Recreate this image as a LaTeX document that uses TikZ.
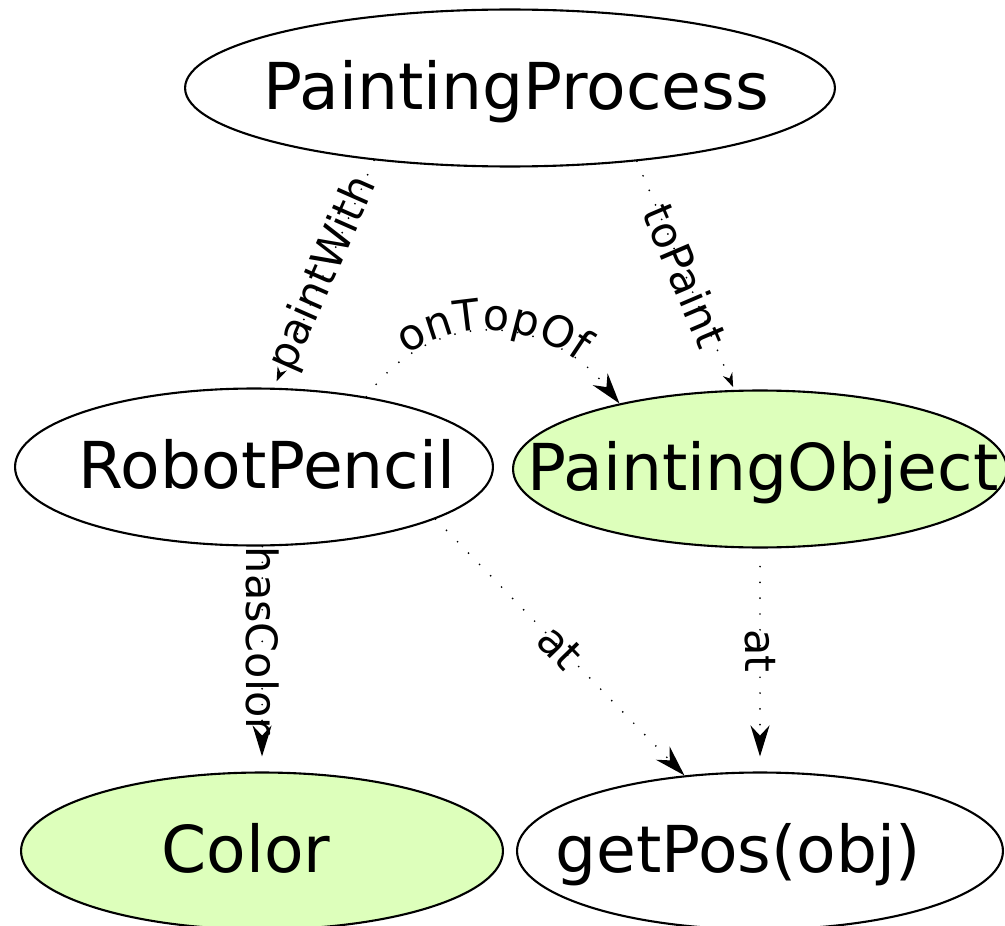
\documentclass[tikz,border=0pt]{standalone}
\usepackage{fontspec}
\setmainfont{DejaVu Sans}
\usetikzlibrary{shapes.geometric, arrows.meta, decorations.text}

\definecolor{leaf}{HTML}{DDFFBB}
\newcommand{\conceptfont}{\fontsize{36.8pt}{40pt}\selectfont}
\newcommand{\relfont}{\fontsize{24.5pt}{28pt}\selectfont}
% name centred in its ellipse, optionally pushed sideways
\newcommand{\cname}[2][0pt]{\makebox[0pt]{\hspace{#1}#2}}

\begin{document}
\begin{tikzpicture}[x=0.02cm, y=-0.02cm,
        concept/.style={ellipse, draw, line width=1.2pt, inner sep=0pt, minimum height=3.14cm,
                        text height=0.88cm, text depth=0pt, font=\conceptfont},
        given/.style={concept, fill=leaf},
        relation/.style={line width=1.1pt, line cap=round, dash pattern=on 0pt off 9pt},
        big/.style={-{Stealth[length=0.62cm, width=0.38cm]}},
        small/.style={-{Stealth[length=0.28cm, width=0.2cm]}},
        rel/.style={font=\relfont, midway, sloped},
        vlabel/.style={font=\relfont, rotate=-90}]
    \useasboundingbox (0,0) rectangle (1005,926);

    \node[concept, minimum width=13cm]   (process) at (510,88)  {\cname[0.24cm]{PaintingProcess}};
    \node[concept, minimum width=9.56cm] (pencil)  at (254,467) {\cname[0.52cm]{RobotPencil}};
    \node[given, minimum width=9.88cm]   (object)  at (760,469) {\cname[0.12cm]{PaintingObject}};
    \node[given, minimum width=9.64cm]   (color)   at (262,851) {\cname[-0.64cm]{Color}};
    \node[concept, minimum width=9.72cm] (pos)     at (760,851) {\cname[-0.88cm]{getPos(obj)}};

    \draw[relation, small, shorten >=0.14cm] (process.-152) -- (pencil.76) node[rel] {paintWith};
    \draw[relation, small, shorten >=0.06cm] (process.-30) -- (object.108) node[rel] {toPaint};
    \draw[relation, big, postaction={decorate},
          decoration={text along path, text align=center, raise=1pt, text={|\relfont|onTopOf}}]
        (pencil.32) .. controls (430,308) and (545,310) .. (object.155);
    \draw[relation, big, shorten >=0.3cm] (pencil.-84) -- (color.north) node[vlabel, pos=0.42] {hasColor};
    \draw[relation, big] (pencil.-16) -- (pos.135) node[rel] {at};
    \draw[relation, big, shorten <=0.36cm, shorten >=0.3cm] (object.south) -- (pos.north) node[vlabel, pos=0.46] {at};
\end{tikzpicture}
\end{document}
